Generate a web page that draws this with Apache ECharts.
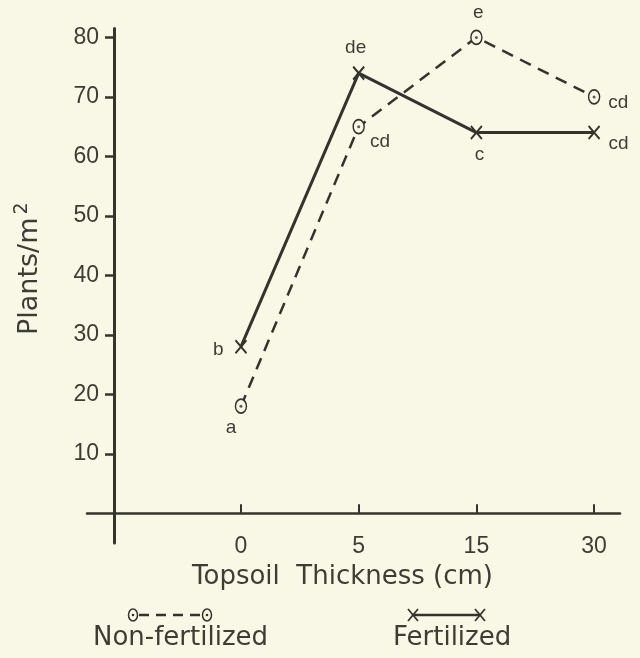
<!DOCTYPE html>
<html>
<head>
<meta charset="utf-8">
<script src="https://cdn.jsdelivr.net/npm/echarts@6/dist/echarts.min.js"></script>
<style>
  html, body { margin: 0; padding: 0; background: #f9f8e6; }
  #chart { width: 640px; height: 658px; }
</style>
</head>
<body>
<div id="chart"></div>
<script>
// ---- data ----
const categories = ['0', '5', '15', '30'];
const nonFertilized = [18, 65, 80, 70];
const fertilized = [28, 74, 64, 64];
const nonFertLetters = ['a', 'cd', 'e', 'cd'];
const fertLetters = ['b', 'de', 'c', 'cd'];
const yTickValues = [10, 20, 30, 40, 50, 60, 70, 80];
const seriesNames = ['Non-fertilized', 'Fertilized'];

// ---- style ----
const INK = '#34342d';
const TEXT = '#3d3d35';
const BG = '#f9f8e6';

const nonFertLabelPlace = [
  { position: 'bottom', offset: [-10, -1] },
  { position: 'right', offset: [0, 15] },
  { position: 'top', offset: [2, -2] },
  { position: 'right', offset: [3, 6] }
];
const fertLabelPlace = [
  { position: 'left', offset: [-6, 3] },
  { position: 'top', offset: [-3, -3] },
  { position: 'bottom', offset: [3, 0] },
  { position: 'right', offset: [3, 11] }
];

const catIndex = categories.map((c, i) => i);

function buildData(values, letters, place) {
  return values.map((v, i) => ({
    value: [catIndex[i], v],
    label: Object.assign({ show: true, formatter: letters[i] }, place[i])
  }));
}

const labelStyle = {
  color: TEXT,
  fontSize: 19,
  fontFamily: 'Liberation Sans, Arial, sans-serif'
};

const chart = echarts.init(document.getElementById('chart'), null, { renderer: 'canvas' });

const option = {
  backgroundColor: BG,
  animation: false,
  grid: { left: 87, right: 20, top: 28.5, bottom: 115 },
  xAxis: {
    type: 'value',
    min: -1.308,
    max: 3.22,
    axisLine: { show: true, onZero: true, lineStyle: { color: INK, width: 2.5 } },
    axisTick: { show: true, inside: true, length: 9, customValues: catIndex, lineStyle: { color: INK, width: 2 } },
    axisLabel: {
      customValues: catIndex,
      formatter: (v) => categories[Math.round(v)],
      margin: -8,
      color: TEXT,
      fontSize: 23,
      fontFamily: 'Liberation Sans, Arial, sans-serif'
    },
    splitLine: { show: false },
    name: 'Topsoil  Thickness (cm)',
    nameLocation: 'middle',
    nameGap: 21,
    nameTextStyle: {
      color: TEXT,
      fontSize: 26,
      fontFamily: 'DejaVu Sans, sans-serif',
      padding: [0, 22, 0, 0]
    }
  },
  yAxis: {
    type: 'value',
    min: -5,
    max: 81.5,
    offset: -27,
    axisLine: { show: true, onZero: false, lineStyle: { color: INK, width: 3 } },
    axisTick: { show: true, length: 9, customValues: yTickValues, lineStyle: { color: INK, width: 2.5 } },
    axisLabel: {
      customValues: yTickValues,
      margin: 15,
      color: TEXT,
      fontSize: 23,
      fontFamily: 'Liberation Sans, Arial, sans-serif'
    },
    splitLine: { show: false },
    name: '{a|Plants/m}{b|2}',
    nameLocation: 'middle',
    nameGap: 67,
    nameTextStyle: {
      color: TEXT,
      padding: [0, 0, 0, 34],
      rich: {
        a: { fontSize: 27, fontFamily: 'DejaVu Sans, sans-serif', color: TEXT },
        b: { fontSize: 19, fontFamily: 'DejaVu Sans, sans-serif', color: TEXT, padding: [0, 0, 15, 3] }
      }
    }
  },
  legend: [
    {
      data: [seriesNames[0]], left: 88, top: 625, padding: 0, icon: 'none',
      itemWidth: 0, itemGap: 0, selectedMode: false,
      textStyle: { color: TEXT, fontSize: 26, fontFamily: 'DejaVu Sans, sans-serif' }
    },
    {
      data: [seriesNames[1]], left: 388, top: 625, padding: 0, icon: 'none',
      itemWidth: 0, itemGap: 0, selectedMode: false,
      textStyle: { color: TEXT, fontSize: 26, fontFamily: 'DejaVu Sans, sans-serif' }
    }
  ],
  graphic: [
    // legend sample: non-fertilized
    { type: 'line', shape: { x1: 139, y1: 615, x2: 201, y2: 615 }, style: { stroke: INK, lineWidth: 2.5, lineDash: [10, 7] } },
    { type: 'ellipse', shape: { cx: 133, cy: 615, rx: 4.5, ry: 6 }, style: { stroke: INK, lineWidth: 1.5, fill: BG } },
    { type: 'circle', shape: { cx: 133, cy: 615, r: 1.3 }, style: { fill: INK } },
    { type: 'ellipse', shape: { cx: 207, cy: 615, rx: 4.5, ry: 6 }, style: { stroke: INK, lineWidth: 1.5, fill: BG } },
    { type: 'circle', shape: { cx: 207, cy: 615, r: 1.3 }, style: { fill: INK } },
    // legend sample: fertilized
    { type: 'line', shape: { x1: 413, y1: 615, x2: 480, y2: 615 }, style: { stroke: INK, lineWidth: 2.5 } },
    { type: 'line', shape: { x1: 408, y1: 609, x2: 418, y2: 621 }, style: { stroke: INK, lineWidth: 1.8 } },
    { type: 'line', shape: { x1: 418, y1: 609, x2: 408, y2: 621 }, style: { stroke: INK, lineWidth: 1.8 } },
    { type: 'line', shape: { x1: 475, y1: 609, x2: 485, y2: 621 }, style: { stroke: INK, lineWidth: 1.8 } },
    { type: 'line', shape: { x1: 485, y1: 609, x2: 475, y2: 621 }, style: { stroke: INK, lineWidth: 1.8 } }
  ],
  series: [
    {
      name: seriesNames[0],
      type: 'line',
      data: buildData(nonFertilized, nonFertLetters, nonFertLabelPlace),
      lineStyle: { color: INK, width: 2.5, type: [12, 8] },
      symbol: 'circle',
      symbolSize: [11, 14],
      itemStyle: { color: BG, borderColor: INK, borderWidth: 1.6 },
      label: labelStyle,
      z: 3
    },
    {
      name: 'nf-dot',
      type: 'scatter',
      data: nonFertilized.map((v, i) => [catIndex[i], v]),
      symbol: 'circle',
      symbolSize: 3,
      itemStyle: { color: INK },
      silent: true,
      z: 4
    },
    {
      name: seriesNames[1],
      type: 'line',
      data: buildData(fertilized, fertLetters, fertLabelPlace),
      lineStyle: { color: INK, width: 3 },
      symbol: 'path://M0,0L10,12M10,0L0,12',
      symbolSize: [11, 13],
      showAllSymbol: true,
      itemStyle: { color: 'rgba(0,0,0,0)', borderColor: INK, borderWidth: 2 },
      label: labelStyle,
      z: 2
    }
  ]
};

chart.setOption(option);
</script>
</body>
</html>
